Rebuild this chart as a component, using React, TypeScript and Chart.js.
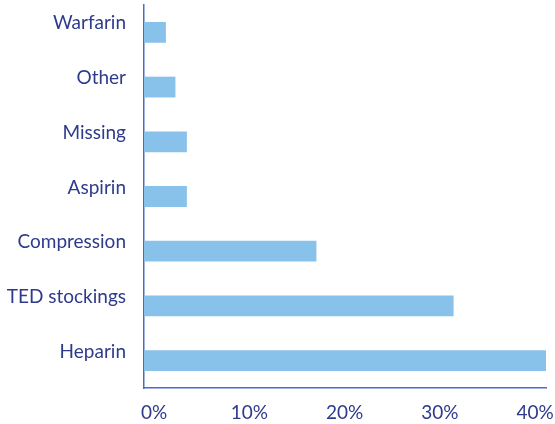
import React, { useEffect, useRef } from "react";
import { Chart, registerables } from "chart.js";

Chart.register(...registerables);

const categories = ["Warfarin", "Other", "Missing", "Aspirin", "Compression", "TED stockings", "Heparin"];
const values = [2.3, 3.3, 4.5, 4.5, 18.1, 32.5, 42.2];
const xTicks = [0, 10, 20, 30, 40];

const TEXT = "#2E3A8C";
const AXIS = "#4A6CC8";
const BAR = "#88C1EA";
const FONT = "Lato, 'Open Sans', sans-serif";

export default function App() {
  const ref = useRef<HTMLCanvasElement | null>(null);
  useEffect(() => {
    if (!ref.current) return;
    const chart = new Chart(ref.current, {
      type: "bar",
      data: {
        labels: categories,
        datasets: [
          {
            data: values,
            backgroundColor: BAR,
            borderWidth: 0,
            barPercentage: 0.76,
            categoryPercentage: 0.5,
          },
        ],
      },
      options: {
        indexAxis: "y",
        animation: false,
        responsive: true,
        maintainAspectRatio: false,
        layout: { padding: { top: 5, right: 9, left: 0, bottom: 0 } },
        plugins: { legend: { display: false }, tooltip: { enabled: false } },
        scales: {
          x: {
            min: 0,
            max: 42.2,
            afterBuildTicks: (scale: any) => {
              scale.ticks = xTicks.map((v) => ({ value: v }));
            },
            afterFit: (scale: any) => {
              scale.height = 36;
              scale.paddingLeft = 0;
              scale.paddingRight = 0;
            },
            grid: { display: false, drawTicks: false },
            border: { display: true, color: AXIS, width: 1.5 },
            ticks: {
              color: TEXT,
              font: { family: FONT, size: 19 },
              padding: 13,
              labelOffset: 10,
              maxRotation: 0,
              callback: (v: any) => `${v}%`,
            },
          },
          y: {
            afterFit: (scale: any) => {
              scale.width = 144;
              scale.paddingTop = 0;
              scale.paddingBottom = 0;
            },
            grid: { display: false, drawTicks: false },
            border: { display: true, color: AXIS, width: 1.5 },
            ticks: {
              color: TEXT,
              font: { family: FONT, size: 19 },
              padding: 18,
              labelOffset: -9,
            },
          },
        },
      },
    });
    return () => chart.destroy();
  }, []);
  return (
    <div style={{ position: "fixed", left: 0, top: 0, width: 555, height: 424, background: "#fff" }}>
      <canvas ref={ref} />
    </div>
  );
}
